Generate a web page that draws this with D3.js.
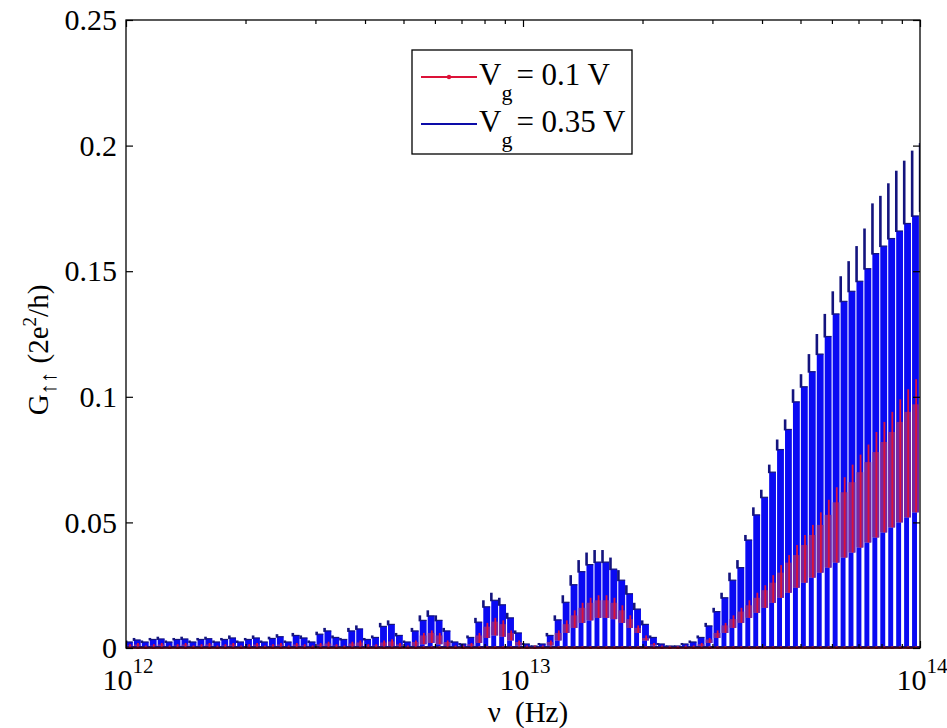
<!DOCTYPE html>
<meta charset="utf-8">
<script src="https://d3js.org/d3.v7.min.js"></script>
<style>
  body { margin: 0; background: #fff; }
  svg text { font-family: "Liberation Serif", "DejaVu Serif", serif; fill: #000; }
</style>
<div id="chart"></div>
<script>
// frequencies of the oscillation maxima, in THz (1e12 Hz)
const nuTHz = [1.000,1.047,1.096,1.148,1.202,1.259,1.318,1.380,1.445,1.514,
  1.585,1.660,1.738,1.820,1.905,1.995,2.089,2.188,2.291,2.399,
  2.512,2.630,2.754,2.884,3.020,3.162,3.311,3.467,3.631,3.802,
  3.981,4.169,4.365,4.571,4.786,5.012,5.248,5.495,5.754,6.026,
  6.310,6.607,6.918,7.244,7.586,7.943,8.318,8.710,9.120,9.550,
  10.00,10.47,10.96,11.48,12.02,12.59,13.18,13.80,14.45,15.14,
  15.85,16.60,17.38,18.20,19.05,19.95,20.89,21.88,22.91,23.99,
  25.12,26.30,27.54,28.84,30.20,31.62,33.11,34.67,36.31,38.02,
  39.81,41.69,43.65,45.71,47.86,50.12,52.48,54.95,57.54,60.26,
  63.10,66.07,69.18,72.44,75.86,79.43,83.18,87.10,91.20,95.50,100.0];

// Vg = 0.35 V : peak value and upper level of the dense band
const blueTop = [0.003,0.004,0.003,0.004,0.0045,0.003,0.004,0.0045,0.003,0.004,
  0.0045,0.003,0.004,0.005,0.003,0.004,0.005,0.003,0.0045,0.0055,
  0.003,0.006,0.005,0.003,0.0065,0.008,0.005,0.004,0.008,0.009,
  0.004,0.005,0.010,0.011,0.006,0.003,0.008,0.013,0.015,0.013,
  0.008,0.003,0.002,0.005,0.012,0.019,0.022,0.020,0.014,0.007,
  0.002,0.001,0.002,0.006,0.013,0.021,0.029,0.035,0.038,0.039,
  0.039,0.036,0.031,0.025,0.018,0.011,0.005,0.002,0.001,0.001,
  0.002,0.003,0.005,0.010,0.016,0.022,0.030,0.035,0.045,0.056,
  0.063,0.073,0.083,0.091,0.103,0.109,0.117,0.125,0.133,0.142,
  0.148,0.154,0.160,0.167,0.177,0.180,0.185,0.190,0.194,0.198,0.201];
const blueMid = [0.0024,0.0032,0.0024,0.0034,0.0036,0.0024,0.0034,0.0036,0.0024,0.0034,
  0.0037,0.0024,0.0034,0.004,0.0024,0.0034,0.004,0.0024,0.0038,0.0045,
  0.0024,0.005,0.004,0.0024,0.0055,0.0068,0.0042,0.0034,0.0068,0.0076,
  0.0034,0.0042,0.0086,0.0094,0.005,0.0024,0.0068,0.011,0.0128,0.011,
  0.0068,0.0024,0.0016,0.0042,0.0103,0.0164,0.019,0.0172,0.012,0.006,
  0.0016,0.0008,0.0016,0.005,0.0112,0.0182,0.0252,0.0304,0.0332,0.0342,
  0.0342,0.0314,0.027,0.0216,0.0155,0.0094,0.0042,0.0016,0.0008,0.0008,
  0.0016,0.0024,0.0042,0.0088,0.0145,0.020,0.027,0.032,0.043,0.053,
  0.060,0.070,0.079,0.087,0.098,0.104,0.110,0.117,0.124,0.133,
  0.138,0.142,0.146,0.151,0.157,0.160,0.163,0.166,0.169,0.172,0.174];

// Vg = 0.1 V : peak value and upper level of the dense band
const redTop = [0.0015,0.002,0.001,0.0015,0.002,0.001,0.0015,0.002,0.001,0.0015,
  0.002,0.001,0.0015,0.002,0.001,0.0015,0.002,0.001,0.0015,0.002,
  0.001,0.002,0.0015,0.001,0.002,0.0025,0.0015,0.001,0.0025,0.003,
  0.0015,0.0015,0.003,0.0035,0.002,0.001,0.003,0.006,0.007,0.006,
  0.003,0.001,0.001,0.002,0.006,0.010,0.012,0.011,0.007,0.003,
  0.001,0.001,0.001,0.003,0.007,0.011,0.015,0.018,0.020,0.021,
  0.021,0.020,0.017,0.013,0.009,0.005,0.002,0.001,0.0005,0.0005,
  0.001,0.001,0.002,0.004,0.007,0.010,0.013,0.016,0.019,0.022,
  0.025,0.029,0.033,0.037,0.041,0.045,0.049,0.054,0.059,0.064,
  0.068,0.073,0.077,0.081,0.086,0.090,0.094,0.099,0.103,0.107,0.110];
const redMid = [0.001,0.0014,0.0007,0.001,0.0014,0.0007,0.001,0.0014,0.0007,0.001,
  0.0014,0.0007,0.001,0.0014,0.0007,0.001,0.0014,0.0007,0.001,0.0014,
  0.0007,0.0014,0.001,0.0007,0.0014,0.0018,0.001,0.0007,0.0018,0.0022,
  0.001,0.001,0.0022,0.0026,0.0014,0.0007,0.0024,0.005,0.006,0.005,
  0.0024,0.0007,0.0007,0.0015,0.005,0.0085,0.0105,0.0095,0.006,0.0024,
  0.0007,0.0007,0.0007,0.0024,0.006,0.0095,0.013,0.016,0.018,0.019,
  0.019,0.018,0.015,0.0115,0.008,0.004,0.0015,0.0007,0.0004,0.0004,
  0.0007,0.0007,0.0015,0.0034,0.006,0.009,0.0115,0.0145,0.017,0.020,
  0.023,0.026,0.030,0.034,0.037,0.041,0.045,0.049,0.053,0.058,
  0.062,0.066,0.070,0.074,0.078,0.082,0.086,0.090,0.094,0.097,0.100];

// lower level of the dense band (both series), below it the curve drops to ~0
const floorG = [0,0,0,0,0,0,0,0,0,0,
  0,0,0,0,0,0,0,0,0,0,
  0,0,0,0,0,0,0,0,0,0,
  0,0,0,0,0,0,0.0005,0.0015,0.002,0.0015,
  0.0005,0,0,0,0.002,0.004,0.005,0.0045,0.003,0.001,
  0,0,0,0.001,0.003,0.006,0.008,0.010,0.011,0.012,
  0.012,0.0115,0.010,0.008,0.006,0.003,0.001,0,0,0,
  0,0,0,0.002,0.004,0.006,0.008,0.010,0.012,0.014,
  0.016,0.018,0.020,0.022,0.024,0.026,0.028,0.030,0.032,0.034,
  0.036,0.038,0.040,0.042,0.044,0.046,0.048,0.050,0.052,0.054,0.056];

const yTicks = [0, 0.05, 0.1, 0.15, 0.2, 0.25];
const yTickLabels = ["0", "0.05", "0.1", "0.15", "0.2", "0.25"];
const xTicks = [1e12, 1e13, 1e14];
const xTickExp = ["12", "13", "14"];
const xMinorTicks = [2e12,3e12,4e12,5e12,6e12,7e12,8e12,9e12,
  2e13,3e13,4e13,5e13,6e13,7e13,8e13,9e13];
const legendLabels = ["= 0.1 V", "= 0.35 V"];

const W = 947, H = 728;
const margin = {top: 20, right: 27, bottom: 80, left: 126};
const pw = W - margin.left - margin.right, ph = H - margin.top - margin.bottom;
const serif = "'Liberation Serif', 'DejaVu Serif', serif";

const blue = "#0a0af2", navy = "#14147e", red = "#dc1238", purple = "#8e2a8e";

const svg = d3.select("#chart").append("svg")
  .attr("width", W).attr("height", H);

const x = d3.scaleLog().domain([1e12, 1e14]).range([margin.left, margin.left + pw]);
const y = d3.scaleLinear().domain([0, 0.25]).range([margin.top + ph, margin.top]);

svg.append("defs").append("clipPath").attr("id", "clip")
  .append("rect").attr("x", margin.left).attr("y", margin.top - 2)
  .attr("width", pw).attr("height", ph + 3);

const plot = svg.append("g").attr("clip-path", "url(#clip)");

// one column per oscillation period
const cols = d3.range(nuTHz.length - 1).map(i => ({
  i, x0: x(nuTHz[i] * 1e12), x1: x(nuTHz[i + 1] * 1e12)
}));
const pts = nuTHz.map((v, i) => ({i, cx: x(v * 1e12)}));

// blue series
plot.append("g").selectAll("rect").data(cols).join("rect")
  .attr("x", d => d.x0).attr("width", d => (d.x1 - d.x0) * 0.62)
  .attr("y", d => y(floorG[d.i])).attr("height", d => y(0) - y(floorG[d.i]))
  .attr("fill", blue);
plot.append("g").selectAll("rect").data(cols).join("rect")
  .attr("x", d => d.x0).attr("width", d => d.x1 - d.x0 - 1.1)
  .attr("y", d => y(blueMid[d.i])).attr("height", d => y(floorG[d.i]) - y(blueMid[d.i]))
  .attr("fill", blue);
plot.append("g").selectAll("path").data(cols).join("path")
  .attr("d", d => `M${d.x0},${y(blueMid[d.i])}H${d.x1 - 1.1}`)
  .attr("stroke", navy).attr("stroke-width", 1.2).attr("fill", "none");
plot.append("g").selectAll("rect").data(pts).join("rect")
  .attr("x", d => d.cx - 1.2).attr("width", 2.6)
  .attr("y", d => y(blueTop[d.i])).attr("height", d => y(blueMid[d.i]) - y(blueTop[d.i]) + 1)
  .attr("fill", navy);

// red series
plot.append("g").selectAll("rect").data(cols).join("rect")
  .attr("x", d => d.x0).attr("width", d => d.x1 - d.x0 - 1.1)
  .attr("y", d => y(redMid[d.i])).attr("height", d => Math.max(0, y(floorG[d.i]) - y(redMid[d.i])))
  .attr("fill", purple).attr("opacity", 0.85);
plot.append("g").selectAll("rect").data(cols).join("rect")
  .attr("x", d => d.x0 + (d.x1 - d.x0) * 0.4).attr("width", 1.8)
  .attr("y", d => y(redTop[d.i])).attr("height", d => Math.max(0, y(floorG[d.i]) - y(redTop[d.i])))
  .attr("fill", red);

// both curves fall back to zero between the maxima
plot.append("line").attr("x1", margin.left).attr("x2", margin.left + pw)
  .attr("y1", y(0) - 1).attr("y2", y(0) - 1).attr("stroke", navy).attr("stroke-width", 2);
plot.append("line").attr("x1", margin.left).attr("x2", margin.left + pw)
  .attr("y1", y(0)).attr("y2", y(0)).attr("stroke", red).attr("stroke-width", 1.5);
plot.append("g").selectAll("circle").data(cols).join("circle")
  .attr("cx", d => (d.x0 + d.x1) / 2).attr("cy", y(0)).attr("r", 1.7)
  .attr("fill", red);

// axes box with inward ticks
const fontSize = 30;
const axG = svg.append("g");
const yl = axG.append("g").attr("transform", `translate(${margin.left},0)`)
  .call(d3.axisLeft(y).tickValues(yTicks).tickSize(-7).tickPadding(9)
    .tickFormat((d, i) => yTickLabels[i]));
axG.append("g").attr("transform", `translate(${margin.left + pw},0)`)
  .call(d3.axisRight(y).tickValues(yTicks).tickSize(-7).tickFormat(""));
axG.append("g").attr("transform", `translate(0,${margin.top + ph})`)
  .call(d3.axisBottom(x).tickValues(xTicks).tickSize(-7).tickFormat(""));
axG.append("g").attr("transform", `translate(0,${margin.top})`)
  .call(d3.axisTop(x).tickValues(xTicks).tickSize(-7).tickFormat(""));
axG.append("g").attr("transform", `translate(0,${margin.top + ph})`)
  .call(d3.axisBottom(x).tickValues(xMinorTicks).tickSize(-4).tickFormat(""));
axG.append("g").attr("transform", `translate(0,${margin.top})`)
  .call(d3.axisTop(x).tickValues(xMinorTicks).tickSize(-4).tickFormat(""));
axG.selectAll(".domain").remove();
axG.selectAll("g").attr("font-family", serif).attr("font-size", fontSize);
axG.selectAll(".tick line").attr("stroke", "#000").attr("stroke-width", 1.2);
yl.selectAll("text").attr("font-size", fontSize).attr("font-family", serif);

axG.append("rect").attr("x", margin.left).attr("y", margin.top)
  .attr("width", pw).attr("height", ph)
  .attr("fill", "none").attr("stroke", "#000").attr("stroke-width", 1.3);

// x tick labels: 10^n
xTicks.forEach((t, i) => {
  const tx = svg.append("text").attr("x", x(t) + 2).attr("y", 690)
    .attr("text-anchor", "middle").attr("font-size", fontSize).attr("font-family", serif);
  tx.append("tspan").text("10");
  tx.append("tspan").attr("dy", -17).attr("font-size", 21).text(xTickExp[i]);
});

// axis titles
const xt = svg.append("text").attr("x", 528).attr("y", 722)
  .attr("text-anchor", "middle").attr("font-size", 29).attr("font-family", serif);
xt.append("tspan").text("\u03bd");
xt.append("tspan").attr("dx", 14).text("(Hz)");

const yt = svg.append("text").attr("transform", "translate(48,350) rotate(-90)")
  .attr("text-anchor", "middle").attr("font-size", 29).attr("font-family", serif);
yt.append("tspan").text("G");
yt.append("tspan").attr("dy", 8).attr("font-size", 23).text("\u2191\u2191");
yt.append("tspan").attr("dy", -8).attr("dx", 8).text("(2e");
yt.append("tspan").attr("dy", -12).attr("font-size", 19).text("2");
yt.append("tspan").attr("dy", 12).text("/h)");

// legend
const lg = svg.append("g");
lg.append("rect").attr("x", 412).attr("y", 50).attr("width", 220).attr("height", 104)
  .attr("fill", "#fff").attr("stroke", "#000").attr("stroke-width", 1.3);
const rows = [{c: red, yy: 77, dot: true}, {c: "#0c0ca8", yy: 124, dot: false}];
rows.forEach((r, i) => {
  lg.append("line").attr("x1", 421).attr("x2", 477).attr("y1", r.yy).attr("y2", r.yy)
    .attr("stroke", r.c).attr("stroke-width", 2.2);
  if (r.dot) lg.append("circle").attr("cx", 449).attr("cy", r.yy).attr("r", 2.2).attr("fill", r.c);
  const t = lg.append("text").attr("x", 479).attr("y", r.yy + 8).attr("font-size", 31)
    .attr("font-family", serif);
  t.append("tspan").text("V");
  t.append("tspan").attr("dy", 15).attr("font-size", 22).text("g");
  t.append("tspan").attr("dy", -15).attr("dx", 4).text(legendLabels[i]);
});
</script>
